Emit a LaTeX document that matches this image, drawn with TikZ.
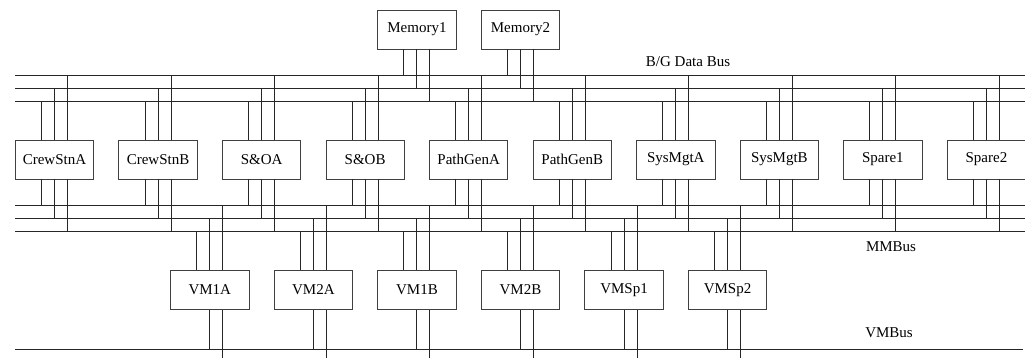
\documentclass[tikz,border=0pt]{standalone}
\usepackage{fontspec}
\setmainfont{Liberation Serif}
\begin{document}
\begin{tikzpicture}[x=1pt,y=-1pt,
  unit/.style={draw=black!75,line width=0.9pt,minimum width=78.4pt,minimum height=39pt,
    inner sep=0pt,font=\fontsize{15}{16}\selectfont},
  busline/.style={draw=black!85,line width=0.9pt},
  tap/.style={draw=black!85,line width=0.9pt},
  buslabel/.style={font=\fontsize{15}{16}\selectfont,inner sep=0pt}]
\useasboundingbox (0,0) rectangle (1025,358);
\def\pitch{103.55}
% bus rails
\coordinate (bg1) at (0,75);   \coordinate (bg2) at (0,88.5);  \coordinate (bg3) at (0,101.5);
\coordinate (mm1) at (0,205.3);\coordinate (mm2) at (0,218.7); \coordinate (mm3) at (0,231.3);
\coordinate (vm1) at (0,349.7);\coordinate (vm2) at (0,358);
\foreach \y in {75,88.5,101.5,205.3,218.7,231.3} \draw[busline] (15.3,\y) -- (1025,\y);
\draw[busline] (15.3,349.7) -- (1023,349.7);
% memories
\foreach \n [count=\j from 0] in {Memory1,Memory2}{
  \node[unit] (mem\j) at ({54.5+\pitch*(3.5+\j)},29.5) {\n};
  \draw[tap] ([xshift=-13pt]mem\j.south) -- ([xshift=-13pt]mem\j.south |- bg1);
  \draw[tap] (mem\j.south) -- (mem\j.south |- bg2);
  \draw[tap] ([xshift=13pt]mem\j.south) -- ([xshift=13pt]mem\j.south |- bg3);
}
% processing units
\foreach \n [count=\i from 0] in {CrewStnA,CrewStnB,S\&OA,S\&OB,PathGenA,PathGenB,SysMgtA,SysMgtB,Spare1,Spare2}{
  \node[unit] (pu\i) at ({54.5+\pitch*\i},159.5) {\n};
  \draw[tap] ([xshift=-13pt]pu\i.north) -- ([xshift=-13pt]pu\i.north |- bg3);
  \draw[tap] (pu\i.north) -- (pu\i.north |- bg2);
  \draw[tap] ([xshift=13pt]pu\i.north) -- ([xshift=13pt]pu\i.north |- bg1);
  \draw[tap] ([xshift=-13pt]pu\i.south) -- ([xshift=-13pt]pu\i.south |- mm1);
  \draw[tap] (pu\i.south) -- (pu\i.south |- mm2);
  \draw[tap] ([xshift=13pt]pu\i.south) -- ([xshift=13pt]pu\i.south |- mm3);
}
% vehicle management units
\foreach \n [count=\k from 0] in {VM1A,VM2A,VM1B,VM2B,VMSp1,VMSp2}{
  \node[unit] (vmu\k) at ({54.5+\pitch*(1.5+\k)},290) {\n};
  \draw[tap] ([xshift=-13pt]vmu\k.north) -- ([xshift=-13pt]vmu\k.north |- mm3);
  \draw[tap] (vmu\k.north) -- (vmu\k.north |- mm2);
  \draw[tap] ([xshift=13pt]vmu\k.north) -- ([xshift=13pt]vmu\k.north |- mm1);
  \draw[tap] (vmu\k.south) -- (vmu\k.south |- vm1);
  \draw[tap] ([xshift=13pt]vmu\k.south) -- ([xshift=13pt]vmu\k.south |- vm2);
}
% bus names
\node[buslabel] (lbg) at (688,61.5) {B/G Data Bus};
\node[buslabel] (lmm) at (891,246.5) {MMBus};
\node[buslabel] (lvm) at (889,333) {VMBus};
\end{tikzpicture}
\end{document}
